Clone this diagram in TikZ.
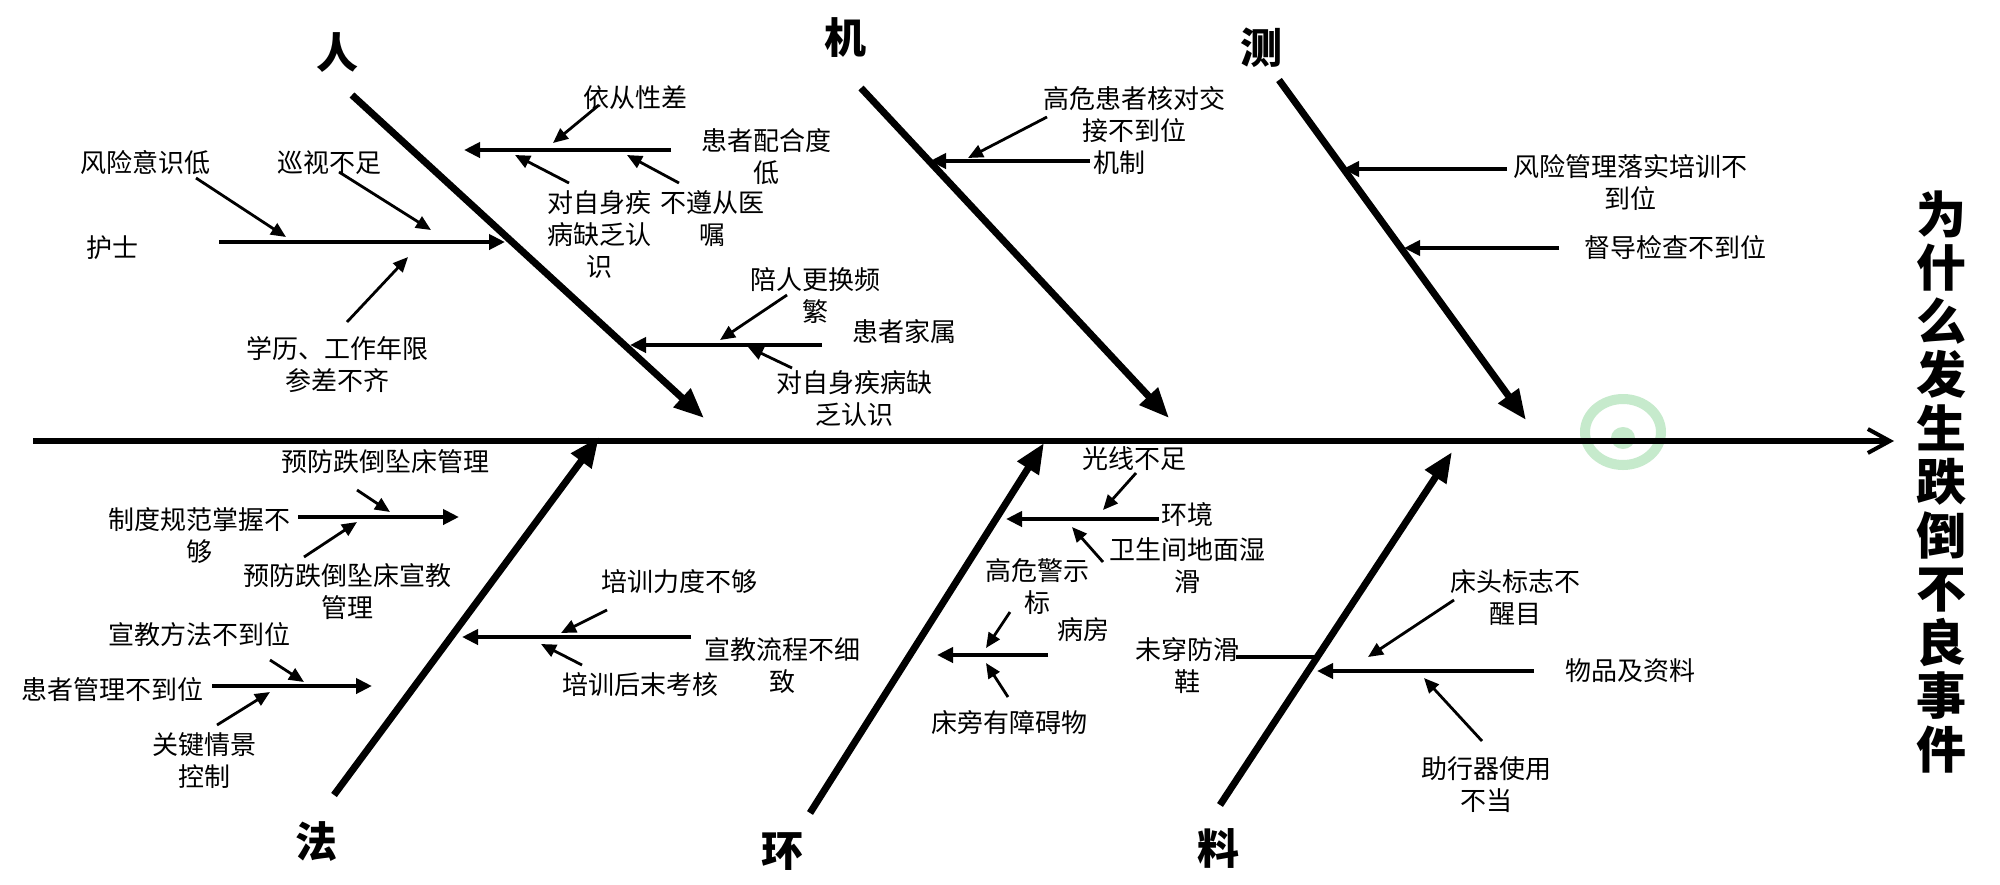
\documentclass[tikz,border=0pt]{standalone}
\usepackage{fontspec}
\newfontfamily\cjk{Noto Sans CJK SC}
\newfontfamily\cjkheavy{Noto Sans CJK SC}[UprightFont=* Black]
\usetikzlibrary{arrows.meta}
\definecolor{wmgreen}{RGB}{198,234,204}
\begin{document}
\begin{tikzpicture}[x=1pt,y=-1pt,
  spine/.style={line width=6pt,-{Straight Barb[length=22pt,width=24pt,line width=4pt]}},
  bone/.style={line width=7pt,-{Triangle[length=30pt,width=24pt]}},
  branch/.style={line width=4pt,-{Triangle[length=16pt,width=15pt]}},
  plainbranch/.style={line width=4pt},
  subarrow/.style={line width=2.8pt,-{Triangle[length=15pt,width=13pt]}},
  lbl/.style={font=\cjk\fontsize{26}{32}\selectfont,align=center,inner sep=0pt},
  cat/.style={font=\cjk\bfseries\fontsize{42}{42}\selectfont,inner sep=0pt},
  ttl/.style={font=\cjkheavy\fontsize{50}{53.5}\selectfont,align=center,inner sep=0pt}]
\useasboundingbox (0,0) rectangle (2000,884);
\fill[white] (0,0) rectangle (2000,884);

% watermark
\draw[wmgreen,line width=10pt] (1623,432) ellipse [x radius=38,y radius=33];
\fill[wmgreen] (1623,438) ellipse [x radius=12,y radius=11];

% spine
\coordinate (spL) at (33,441);
\coordinate (spR) at (1894,441);
\draw[spine] (spL) -- (spR);

\node[ttl] (title) at (1941,482) {为\\什\\么\\发\\生\\跌\\倒\\不\\良\\事\\件};

% bones
\coordinate (renS) at (352,95);   \coordinate (renE) at (704,418);
\coordinate (jiS) at (861,88);    \coordinate (jiE) at (1169,418);
\coordinate (ceS) at (1279,80);   \coordinate (ceE) at (1526,420);
\coordinate (faS) at (334,795);   \coordinate (faE) at (599,437);
\coordinate (huanS) at (810,813); \coordinate (huanE) at (1044,443);
\coordinate (liaoS) at (1220,805);\coordinate (liaoE) at (1452,452);
\draw[bone] (renS) -- (renE);
\draw[bone] (jiS) -- (jiE);
\draw[bone] (ceS) -- (ceE);
\draw[bone] (faS) -- (faE);
\draw[bone] (huanS) -- (huanE);
\draw[bone] (liaoS) -- (liaoE);

\node[cat] (ren) at (337,53) {人};
\node[cat] (ji) at (845,38) {机};
\node[cat] (ce) at (1261,48) {测};
\node[cat] (fa) at (316,842) {法};
\node[cat] (huan) at (782,852) {环};
\node[cat] (liao) at (1218,848) {料};

% ---------- 人 ----------
\node[lbl] (hushi) at (112,248) {护士};
\coordinate (b1S) at (219,242); \coordinate (b1E) at (505,242);
\draw[branch] (b1S) -- (b1E);
\node[lbl] (fxys) at (145,163) {风险意识低};
\coordinate (a1S) at (196,178); \coordinate (a1E) at (286,237);
\draw[subarrow] (a1S) -- (a1E);
\node[lbl] (xsbz) at (329,163) {巡视不足};
\coordinate (a2S) at (339,172); \coordinate (a2E) at (431,230);
\draw[subarrow] (a2S) -- (a2E);
\node[lbl] (xl) at (337,365) {学历、工作年限\\参差不齐};
\coordinate (a3S) at (347,322); \coordinate (a3E) at (408,257);
\draw[subarrow] (a3S) -- (a3E);

\node[lbl] (phd) at (766,157) {患者配合度\\低};
\coordinate (b2S) at (671,150); \coordinate (b2E) at (464,150);
\draw[branch] (b2S) -- (b2E);
\node[lbl] (ycx) at (635,98) {依从性差};
\coordinate (a4S) at (599,105); \coordinate (a4E) at (553,143);
\draw[subarrow] (a4S) -- (a4E);
\node[lbl] (dzs1) at (599,235) {对自身疾\\病缺乏认\\识};
\coordinate (a5S) at (569,183); \coordinate (a5E) at (515,155);
\draw[subarrow] (a5S) -- (a5E);
\node[lbl] (bzc) at (712,219) {不遵从医\\嘱};
\coordinate (a6S) at (679,183); \coordinate (a6E) at (627,155);
\draw[subarrow] (a6S) -- (a6E);

\node[lbl] (jiashu) at (904,332) {患者家属};
\coordinate (b3S) at (822,345); \coordinate (b3E) at (630,345);
\draw[branch] (b3S) -- (b3E);
\node[lbl] (prgh) at (815,296) {陪人更换频\\繁};
\coordinate (a7S) at (787,295); \coordinate (a7E) at (720,340);
\draw[subarrow] (a7S) -- (a7E);
\node[lbl] (dzs2) at (854,399) {对自身疾病缺\\乏认识};
\coordinate (a8S) at (792,368); \coordinate (a8E) at (748,347);
\draw[subarrow] (a8S) -- (a8E);

% ---------- 机 ----------
\node[lbl] (jizhi) at (1119,163) {机制};
\coordinate (b4S) at (1090,161); \coordinate (b4E) at (930,161);
\draw[branch] (b4S) -- (b4E);
\node[lbl] (gwhd) at (1134,115) {高危患者核对交\\接不到位};
\coordinate (a9S) at (1047,117); \coordinate (a9E) at (968,158);
\draw[subarrow] (a9S) -- (a9E);

% ---------- 测 ----------
\node[lbl] (fxgl) at (1630,182) {风险管理落实培训不\\到位};
\coordinate (b5S) at (1507,169); \coordinate (b5E) at (1343,169);
\draw[branch] (b5S) -- (b5E);
\node[lbl] (ddjc) at (1675,248) {督导检查不到位};
\coordinate (b6S) at (1559,248); \coordinate (b6E) at (1404,248);
\draw[branch] (b6S) -- (b6E);

% ---------- 法 ----------
\node[lbl] (zdgf) at (199,536) {制度规范掌握不\\够};
\coordinate (b7S) at (298,517); \coordinate (b7E) at (459,517);
\draw[branch] (b7S) -- (b7E);
\node[lbl] (yfgl) at (385,462) {预防跌倒坠床管理};
\coordinate (c1S) at (357,490); \coordinate (c1E) at (390,512);
\draw[subarrow] (c1S) -- (c1E);
\node[lbl] (yfxj) at (347,592) {预防跌倒坠床宣教\\管理};
\coordinate (c2S) at (304,557); \coordinate (c2E) at (357,522);
\draw[subarrow] (c2S) -- (c2E);

\node[lbl] (hzgl) at (112,690) {患者管理不到位};
\coordinate (b8S) at (212,686); \coordinate (b8E) at (372,686);
\draw[branch] (b8S) -- (b8E);
\node[lbl] (xjff) at (199,635) {宣教方法不到位};
\coordinate (c3S) at (270,660); \coordinate (c3E) at (304,682);
\draw[subarrow] (c3S) -- (c3E);
\node[lbl] (gjqj) at (204,761) {关键情景\\控制};
\coordinate (c4S) at (217,725); \coordinate (c4E) at (270,692);
\draw[subarrow] (c4S) -- (c4E);

\node[lbl] (xjlc) at (782,666) {宣教流程不细\\致};
\coordinate (b9S) at (691,637); \coordinate (b9E) at (462,637);
\draw[branch] (b9S) -- (b9E);
\node[lbl] (pxld) at (679,582) {培训力度不够};
\coordinate (c5S) at (607,610); \coordinate (c5E) at (561,633);
\draw[subarrow] (c5S) -- (c5E);
\node[lbl] (pxhm) at (640,685) {培训后末考核};
\coordinate (c6S) at (582,665); \coordinate (c6E) at (541,644);
\draw[subarrow] (c6S) -- (c6E);

% ---------- 环 ----------
\node[lbl] (hj) at (1187,515) {环境};
\coordinate (b10S) at (1159,519); \coordinate (b10E) at (1006,519);
\draw[branch] (b10S) -- (b10E);
\node[lbl] (gxbz) at (1134,459) {光线不足};
\coordinate (d1S) at (1136,473); \coordinate (d1E) at (1103,510);
\draw[subarrow] (d1S) -- (d1E);
\node[lbl] (wsj) at (1187,566) {卫生间地面湿\\滑};
\coordinate (d2S) at (1103,562); \coordinate (d2E) at (1072,527);
\draw[subarrow] (d2S) -- (d2E);

\node[lbl] (bf) at (1083,630) {病房};
\coordinate (b11S) at (1048,655); \coordinate (b11E) at (937,655);
\draw[branch] (b11S) -- (b11E);
\node[lbl] (gwjs) at (1037,587) {高危警示\\标};
\coordinate (d3S) at (1010,612); \coordinate (d3E) at (986,648);
\draw[subarrow] (d3S) -- (d3E);
\node[lbl] (cpza) at (1009,722) {床旁有障碍物};
\coordinate (d4S) at (1008,697); \coordinate (d4E) at (986,663);
\draw[subarrow] (d4S) -- (d4E);

% ---------- 料 ----------
\coordinate (b12S) at (1236,657); \coordinate (b12E) at (1317,657);
\draw[plainbranch] (b12S) -- (b12E);
\node[lbl] (wcfh) at (1187,666) {未穿防滑\\鞋};
\node[lbl] (wpzl) at (1630,671) {物品及资料};
\coordinate (b13S) at (1534,671); \coordinate (b13E) at (1317,671);
\draw[branch] (b13S) -- (b13E);
\node[lbl] (ctbz) at (1515,597) {床头标志不\\醒目};
\coordinate (e1S) at (1454,600); \coordinate (e1E) at (1368,657);
\draw[subarrow] (e1S) -- (e1E);
\node[lbl] (zxq) at (1486,785) {助行器使用\\不当};
\coordinate (e2S) at (1482,741); \coordinate (e2E) at (1424,678);
\draw[subarrow] (e2S) -- (e2E);
\end{tikzpicture}
\end{document}
